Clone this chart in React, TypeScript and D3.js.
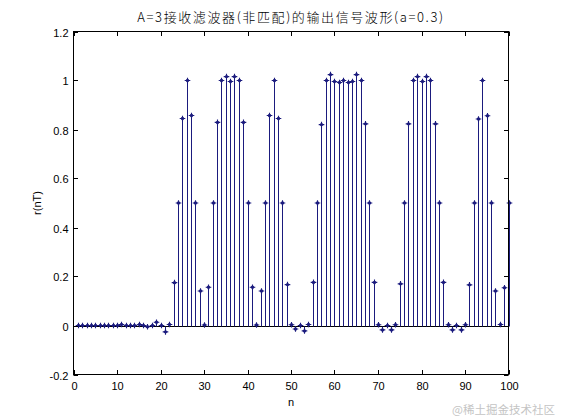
import React, { useEffect, useRef } from "react";
import * as d3 from "d3";

const titleText = "A=3接收滤波器(非匹配)的输出信号波形(a=0.3)";
const xLabel = "n";
const yLabel = "r(nT)";
const watermark = "@稀土掘金技术社区";

const xTicks = [0, 10, 20, 30, 40, 50, 60, 70, 80, 90, 100];
const yTicks = [-0.2, 0, 0.2, 0.4, 0.6, 0.8, 1, 1.2];
const yTickLabels = ["-0.2", "0", "0.2", "0.4", "0.6", "0.8", "1", "1.2"];

// r(nT) for n = 1..100
const rValues = [
  0, 0, 0, 0, 0, 0, 0, 0, 0, 0,
  0.004, 0, 0, 0, 0.004, 0, -0.005, 0, 0.013, 0,
  -0.026, 0.004, 0.175, 0.5, 0.845, 1.0, 0.857, 0.5, 0.141, 0.002,
  0.156, 0.5, 0.829, 1.0, 1.016, 0.996, 1.016, 1.0, 0.829, 0.5,
  0.156, 0.002, 0.141, 0.5, 0.857, 1.0, 0.845, 0.5, 0.167, 0.003,
  -0.014, 0, -0.022, 0.004, 0.176, 0.5, 0.82, 1.0, 1.024, 0.996,
  0.992, 1.0, 0.992, 0.996, 1.024, 1.0, 0.823, 0.5, 0.176, 0.003,
  -0.018, 0, -0.018, 0.003, 0.17, 0.5, 0.823, 1.0, 1.016, 0.996,
  1.016, 1.0, 0.823, 0.5, 0.176, 0.003, -0.018, 0, -0.018, 0.003,
  0.166, 0.5, 0.843, 1.0, 0.856, 0.5, 0.141, 0.004, 0.154, 0.5,
];

const W = 561;
const H = 420;
const L = 73.5, R = 508.5, T = 31.5, B = 374.5;
const STEM = "#1b1b7e";
const FONT = "'Liberation Sans', Arial, Helvetica, sans-serif";

export default function App() {
  const ref = useRef<SVGSVGElement>(null);
  useEffect(() => {
    document.body.style.margin = "0";
    const svg = d3.select(ref.current);
    svg.selectAll("*").remove();
    const x = d3.scaleLinear().domain([0, 100]).range([L, R]);
    const y = d3.scaleLinear().domain([-0.2, 1.2]).range([B, T]);
    const data = rValues.map((v, i) => ({ n: i + 1, v }));

    svg.append("rect").attr("width", W).attr("height", H).attr("fill", "#ffffff");

    // baseline
    svg.append("line")
      .attr("x1", x(0)).attr("x2", x(100))
      .attr("y1", Math.round(y(0)) + 0.5).attr("y2", Math.round(y(0)) + 0.5)
      .attr("stroke", "#000").attr("stroke-width", 1);

    // stems
    svg.append("g").selectAll("line").data(data).join("line")
      .attr("x1", d => Math.round(x(d.n)) + 0.5).attr("x2", d => Math.round(x(d.n)) + 0.5)
      .attr("y1", Math.round(y(0)) + 0.5).attr("y2", d => y(d.v))
      .attr("stroke", STEM).attr("stroke-width", 1);

    // markers (small filled dot with short cross arms)
    const mk = svg.append("g").selectAll("g").data(data).join("g")
      .attr("transform", d => `translate(${Math.round(x(d.n)) + 0.5},${y(d.v)})`);
    mk.append("circle").attr("r", 1.7).attr("fill", STEM);
    mk.append("path").attr("d", "M-2.8,0H2.8M0,-2.8V2.8").attr("stroke", STEM).attr("stroke-width", 1.1);

    // axes box
    svg.append("rect")
      .attr("x", L).attr("y", T).attr("width", R - L).attr("height", B - T)
      .attr("fill", "none").attr("stroke", "#000").attr("stroke-width", 1);

    const tl = 4.5;
    const g = svg.append("g");
    xTicks.forEach(t => {
      const px = Math.round(x(t)) + 0.5;
      g.append("line").attr("x1", px).attr("x2", px).attr("y1", B).attr("y2", B - tl).attr("stroke", "#000");
      g.append("line").attr("x1", px).attr("x2", px).attr("y1", T).attr("y2", T + tl).attr("stroke", "#000");
      g.append("text").attr("x", px).attr("y", B + 15).attr("text-anchor", "middle")
        .attr("font-family", FONT).attr("font-size", 11).attr("fill", "#000").text(String(t));
    });
    yTicks.forEach((t, i) => {
      const py = Math.round(y(t)) + 0.5;
      g.append("line").attr("x1", L).attr("x2", L + tl).attr("y1", py).attr("y2", py).attr("stroke", "#000");
      g.append("line").attr("x1", R).attr("x2", R - tl).attr("y1", py).attr("y2", py).attr("stroke", "#000");
      g.append("text").attr("x", L - 5).attr("y", py + 4).attr("text-anchor", "end")
        .attr("font-family", FONT).attr("font-size", 11).attr("fill", "#000").text(yTickLabels[i]);
    });

    svg.append("text").attr("x", (L + R) / 2).attr("y", 22).attr("text-anchor", "middle")
      .attr("font-family", "'Noto Sans CJK SC', " + FONT).attr("font-size", 13)
      .attr("letter-spacing", 1.6).attr("font-weight", 300).attr("fill", "#000")
      .text(titleText);
    svg.append("text").attr("x", (L + R) / 2).attr("y", 406).attr("text-anchor", "middle")
      .attr("font-family", FONT).attr("font-size", 11).attr("fill", "#000").text(xLabel);
    svg.append("text").attr("transform", `translate(41,${(T + B) / 2}) rotate(-90)`).attr("text-anchor", "middle")
      .attr("font-family", FONT).attr("font-size", 11).attr("fill", "#000").text(yLabel);
    svg.append("text").attr("x", 555).attr("y", 414).attr("text-anchor", "end")
      .attr("font-family", "'Noto Sans CJK SC', sans-serif").attr("font-size", 11.5).attr("fill", "#c4c4c4")
      .text(watermark);
  }, []);
  return (
    <svg ref={ref} width={W} height={H} style={{ position: "absolute", left: 0, top: 0, display: "block" }} />
  );
}
